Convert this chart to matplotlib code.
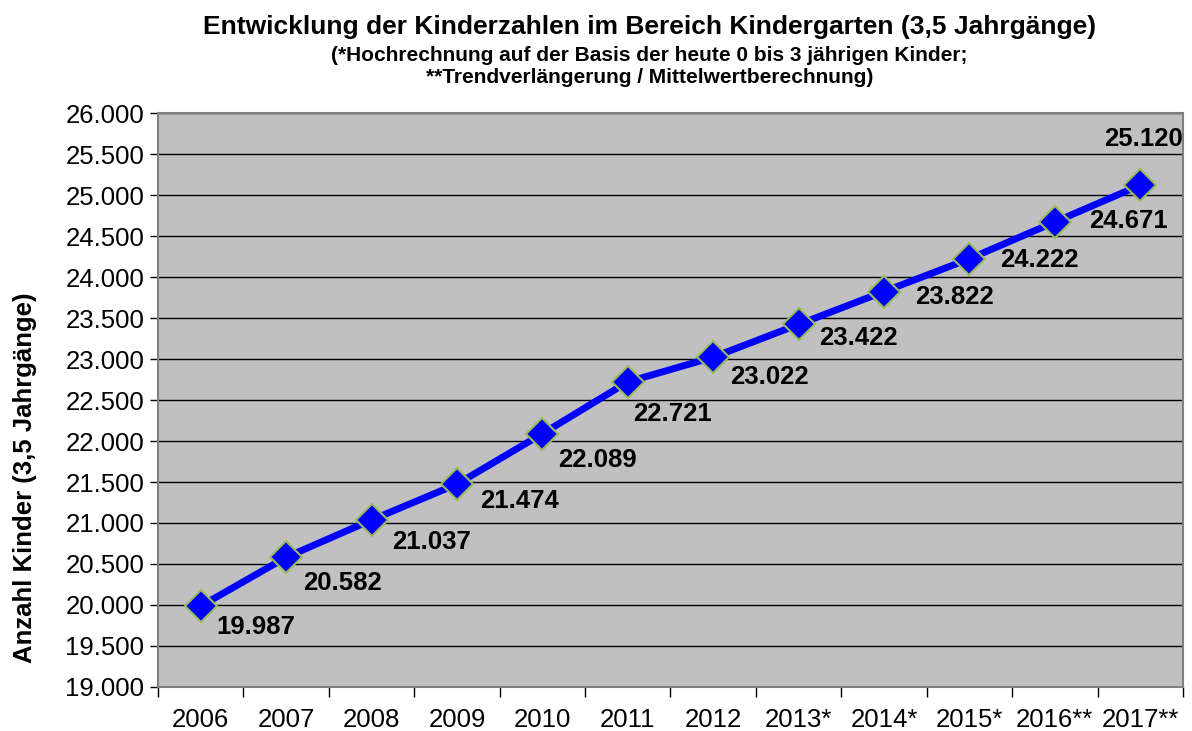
import matplotlib
matplotlib.use('Agg')
from matplotlib import pyplot as plt

plt.rcParams['font.family'] = ['Liberation Sans', 'DejaVu Sans']

# Daten aus dem Diagramm
jahre = ['2006', '2007', '2008', '2009', '2010', '2011', '2012',
         '2013*', '2014*', '2015*', '2016**', '2017**']
kinder = [19987, 20582, 21037, 21474, 22089, 22721, 23022,
          23422, 23822, 24222, 24671, 25120]

# Verschiebung der Beschriftungen in Pixeln (wie im Original von Hand gezogen)
label_dx = [16, 17, 21, 23, 16, 5, 17, 21, 31, 31, 34, -36]
label_dy = [21, 26, 22, 17, 26, 32, 20, 14, 5, 1, -1, -46]

fig = plt.figure(figsize=(11.92, 7.31), dpi=100)
ax = fig.add_axes([0.1326, 0.0602, 0.8598, 0.7852])
ax.set_facecolor('#c0c0c0')

x = list(range(len(jahre)))
ax.plot(x, kinder, color='#0000ff', linewidth=5, marker='D', markersize=16,
        markerfacecolor='#0000ff', markeredgecolor='#9bbb59', markeredgewidth=1.5,
        zorder=3)

# Beschriftungen der Punkte
for i, v in enumerate(kinder):
    txt = f'{v:,}'.replace(',', '.')
    ax.annotate(txt, (i, v), xytext=(label_dx[i], -label_dy[i]),
                textcoords='offset pixels', ha='left', va='center',
                fontsize=18.5, fontweight='bold', annotation_clip=False, zorder=4)

ax.set_xlim(-0.5, len(jahre) - 0.5)
ax.set_ylim(19000, 26000)
ax.set_yticks(range(19000, 26001, 500))
ax.set_yticklabels([f'{t:,}'.replace(',', '.') for t in range(19000, 26001, 500)],
                   fontsize=18.5)
ax.set_xticks(x)
ax.set_xticklabels(jahre, fontsize=18.5)
ax.set_xticks([i - 0.5 for i in range(len(jahre) + 1)], minor=True)
ax.tick_params(axis='x', which='major', length=0, pad=15)
ax.tick_params(axis='x', which='minor', length=7, width=1, color='black')
ax.tick_params(axis='y', length=6, width=1, color='black', pad=4)

ax.grid(axis='y', color='black', linewidth=1)
ax.set_axisbelow(True)
for s in ax.spines.values():
    s.set_color('#808080')
    s.set_linewidth(1.5)

ax.set_ylabel('Anzahl Kinder (3,5 Jahrgänge)', fontsize=18.5, fontweight='bold')
ax.yaxis.set_label_coords(-0.118, 0.364)

fig.text(0.545, 0.963, 'Entwicklung der Kinderzahlen im Bereich Kindergarten (3,5 Jahrgänge)',
         ha='center', va='center', fontsize=19, fontweight='bold')
fig.text(0.545, 0.909, '(*Hochrechnung auf der Basis der heute 0 bis 3 jährigen Kinder;\n'
         '**Trendverlängerung / Mittelwertberechnung)',
         ha='center', va='center', fontsize=15, fontweight='bold', linespacing=1.15)

fig.savefig('out.png', dpi=100)
